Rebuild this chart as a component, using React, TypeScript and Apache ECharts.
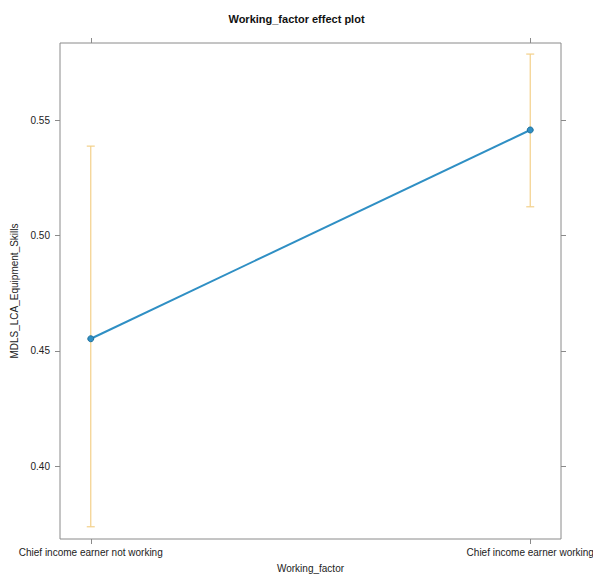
import React, { useEffect, useRef } from "react";
import * as echarts from "echarts";

const categories = ["Chief income earner not working", "Chief income earner working"];
const fitValues = [0.4552, 0.5457];
const lowerValues = [0.3737, 0.5124];
const upperValues = [0.5387, 0.5786];
const yTicks = [0.4, 0.45, 0.5, 0.55];
const xPositions = [1, 2];

const FONT = "Liberation Sans, Arial, Helvetica, sans-serif";
const AXIS_GRAY = "#8a8a8a";

export default function App() {
  const ref = useRef<HTMLDivElement>(null);
  useEffect(() => {
    if (!ref.current) return;
    const chart = echarts.init(ref.current, undefined, { renderer: "svg" });
    const tickStyle = { show: true, length: 5, inside: false, lineStyle: { color: AXIS_GRAY, width: 1 } };
    const option: any = {
      animation: false,
      backgroundColor: "#ffffff",
      title: {
        text: "Working_factor effect plot",
        left: "center",
        top: 8,
        textStyle: { fontFamily: FONT, fontSize: 11, fontWeight: "bold", color: "#111" },
      },
      grid: {
        left: 60,
        right: 32,
        top: 43,
        bottom: 39,
        outerBoundsMode: "none",
        containLabel: false,
        show: true,
        borderColor: AXIS_GRAY,
        borderWidth: 1,
        backgroundColor: "transparent",
      },
      xAxis: [
        {
          type: "value",
          position: "bottom",
          min: 0.93,
          max: 2.07,
          name: "Working_factor",
          nameLocation: "middle",
          nameGap: 24,
          nameTextStyle: { fontFamily: FONT, fontSize: 10, color: "#222" },
          axisLine: { show: false },
          splitLine: { show: false },
          axisTick: { ...tickStyle, customValues: xPositions },
          axisLabel: {
            customValues: xPositions,
            margin: 8,
            fontFamily: FONT,
            fontSize: 10,
            color: "#222",
            formatter: (v: number) => categories[Math.round(v) - 1] ?? "",
          },
        },
        {
          type: "value",
          position: "top",
          min: 0.93,
          max: 2.07,
          axisLine: { show: false },
          splitLine: { show: false },
          axisTick: { ...tickStyle, customValues: xPositions },
          axisLabel: { show: false, customValues: xPositions },
        },
      ],
      yAxis: [
        {
          type: "value",
          position: "left",
          min: 0.3684,
          max: 0.5834,
          name: "MDLS_LCA_Equipment_Skills",
          nameLocation: "middle",
          nameGap: 36,
          nameTextStyle: { fontFamily: FONT, fontSize: 10, color: "#222" },
          axisLine: { show: false },
          splitLine: { show: false },
          axisTick: { ...tickStyle, customValues: yTicks },
          axisLabel: {
            customValues: yTicks,
            margin: 10,
            fontFamily: FONT,
            fontSize: 10,
            color: "#222",
            formatter: (v: number) => v.toFixed(2),
          },
        },
        {
          type: "value",
          position: "right",
          min: 0.3684,
          max: 0.5834,
          axisLine: { show: false },
          splitLine: { show: false },
          axisTick: { ...tickStyle, customValues: yTicks },
          axisLabel: { show: false, customValues: yTicks },
        },
      ],
      series: [
        {
          type: "custom",
          xAxisIndex: 0,
          yAxisIndex: 0,
          data: xPositions.map((x, i) => [x, lowerValues[i], upperValues[i]]),
          renderItem: (params: any, api: any) => {
            const x = api.value(0);
            const lo = api.coord([x, api.value(1)]);
            const hi = api.coord([x, api.value(2)]);
            const half = 4;
            const style = { stroke: "#f3d089", lineWidth: 1.2, fill: "none" };
            return {
              type: "group",
              children: [
                { type: "line", shape: { x1: lo[0], y1: lo[1], x2: hi[0], y2: hi[1] }, style },
                { type: "line", shape: { x1: lo[0] - half, y1: lo[1], x2: lo[0] + half, y2: lo[1] }, style },
                { type: "line", shape: { x1: hi[0] - half, y1: hi[1], x2: hi[0] + half, y2: hi[1] }, style },
              ],
            };
          },
          z: 1,
        },
        {
          type: "line",
          xAxisIndex: 0,
          yAxisIndex: 0,
          data: xPositions.map((x, i) => [x, fitValues[i]]),
          symbol: "circle",
          symbolSize: 6,
          lineStyle: { color: "#2f8fc4", width: 2 },
          itemStyle: { color: "#2f8fc4", borderColor: "#1f6f9a", borderWidth: 1 },
          z: 3,
        },
      ],
    };
    chart.setOption(option);
    return () => chart.dispose();
  }, []);
  return (
    <div
      ref={ref}
      style={{ position: "fixed", left: 0, top: 0, width: 593, height: 578, background: "#fff" }}
    />
  );
}
